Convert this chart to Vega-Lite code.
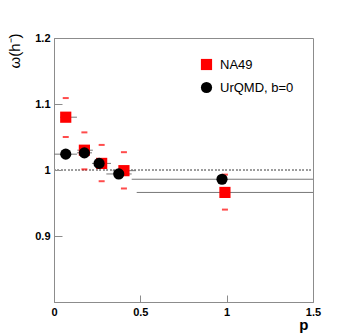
{
  "$schema": "https://vega.github.io/schema/vega-lite/v6.json",
  "autosize": "none",
  "width": 259,
  "height": 264,
  "padding": {"left": 54, "top": 38, "right": 29, "bottom": 31},
  "background": "white",
  "config": {
    "view": {"stroke": "#8c8c8c", "strokeWidth": 1},
    "font": "Liberation Sans"
  },
  "data": {
    "values": [
      {"series": "NA49", "x": 0.068, "y": 1.080, "xlo": 0.035, "xhi": 0.133, "ylo": 1.050, "yhi": 1.109},
      {"series": "NA49", "x": 0.176, "y": 1.030, "xlo": 0.135, "xhi": 0.225, "ylo": 1.001, "yhi": 1.057},
      {"series": "NA49", "x": 0.276, "y": 1.010, "xlo": 0.23, "xhi": 0.33, "ylo": 0.983, "yhi": 1.038},
      {"series": "NA49", "x": 0.405, "y": 0.999, "xlo": 0.34, "xhi": 0.475, "ylo": 0.972, "yhi": 1.027},
      {"series": "NA49", "x": 0.99, "y": 0.966, "xlo": 0.479, "xhi": 1.5, "ylo": 0.940, "yhi": 0.993},
      {"series": "UrQMD, b=0", "x": 0.068, "y": 1.024, "xlo": 0.0, "xhi": 0.133},
      {"series": "UrQMD, b=0", "x": 0.176, "y": 1.026, "xlo": 0.133, "xhi": 0.22},
      {"series": "UrQMD, b=0", "x": 0.261, "y": 1.010, "xlo": 0.22, "xhi": 0.30},
      {"series": "UrQMD, b=0", "x": 0.375, "y": 0.994, "xlo": 0.303, "xhi": 0.45},
      {"series": "UrQMD, b=0", "x": 0.973, "y": 0.986, "xlo": 0.45, "xhi": 1.5}
    ]
  },
  "encoding": {
    "x": {
      "field": "x", "type": "quantitative",
      "scale": {"domain": [0, 1.5], "nice": false, "zero": false},
      "axis": {
        "values": [0, 0.5, 1, 1.5], "format": "~g", "grid": false,
        "title": "p", "titleFont": "Liberation Sans", "titleFontWeight": "bold", "titleFontSize": 15,
        "titleColor": "black", "titleAnchor": "end", "titleAlign": "right", "titleX": 254, "titleY": 27, "titleBaseline": "alphabetic",
        "labelFont": "Liberation Sans", "labelFontWeight": "bold", "labelFontSize": 11, "labelColor": "black",
        "labelPadding": 11, "labelFlush": false,
        "tickSize": -7, "tickColor": "#8c8c8c", "domainColor": "#8c8c8c"
      }
    },
    "y": {
      "field": "y", "type": "quantitative",
      "scale": {"domain": [0.8, 1.2], "nice": false, "zero": false},
      "axis": {
        "values": [0.9, 1, 1.1, 1.2], "format": "~g", "grid": false,
        "title": "ω(h⁻)", "titleFont": "Liberation Sans", "titleFontWeight": "normal", "titleFontSize": 15,
        "titleColor": "black", "titleAnchor": "end", "titleX": -35, "titleY": -5, "titleAngle": -90, "titleAlign": "right", "titleBaseline": "alphabetic",
        "labelFont": "Liberation Sans", "labelFontWeight": "bold", "labelFontSize": 11, "labelColor": "black",
        "labelPadding": 12, "labelFlush": false,
        "tickSize": -8, "tickColor": "#8c8c8c", "domainColor": "#8c8c8c"
      }
    }
  },
  "layer": [
    {
      "mark": {"type": "rule", "color": "#999999", "strokeDash": [1.5, 2], "strokeWidth": 0.8},
      "encoding": {"y": {"datum": 1}, "x": {"datum": 0}, "x2": {"datum": 1.5}}
    },
    {
      "mark": {"type": "rule", "color": "#777777", "strokeWidth": 1},
      "encoding": {"x": {"field": "xlo", "type": "quantitative"}, "x2": {"field": "xhi"}}
    },
    {
      "transform": [{"filter": "datum.series == 'NA49'"}],
      "mark": {"type": "tick", "orient": "horizontal", "color": "#ff0000", "size": 6, "thickness": 2},
      "encoding": {"y": {"field": "ylo", "type": "quantitative"}}
    },
    {
      "transform": [{"filter": "datum.series == 'NA49'"}],
      "mark": {"type": "tick", "orient": "horizontal", "color": "#ff0000", "size": 6, "thickness": 2},
      "encoding": {"y": {"field": "yhi", "type": "quantitative"}}
    },
    {
      "mark": {"type": "point", "filled": true, "opacity": 1, "size": 125},
      "encoding": {
        "color": {
          "field": "series", "type": "nominal",
          "scale": {"domain": ["NA49", "UrQMD, b=0"], "range": ["#ff0000", "#000000"]},
          "legend": {
            "title": null, "orient": "none", "legendX": 146, "legendY": 20,
            "labelFont": "Liberation Sans", "labelFontSize": 13, "labelColor": "black",
            "symbolSize": 125, "rowPadding": 9, "labelOffset": 7, "symbolStrokeWidth": 0
          }
        },
        "shape": {
          "field": "series", "type": "nominal",
          "scale": {"domain": ["NA49", "UrQMD, b=0"], "range": ["square", "circle"]},
          "legend": null
        }
      }
    }
  ]
}
